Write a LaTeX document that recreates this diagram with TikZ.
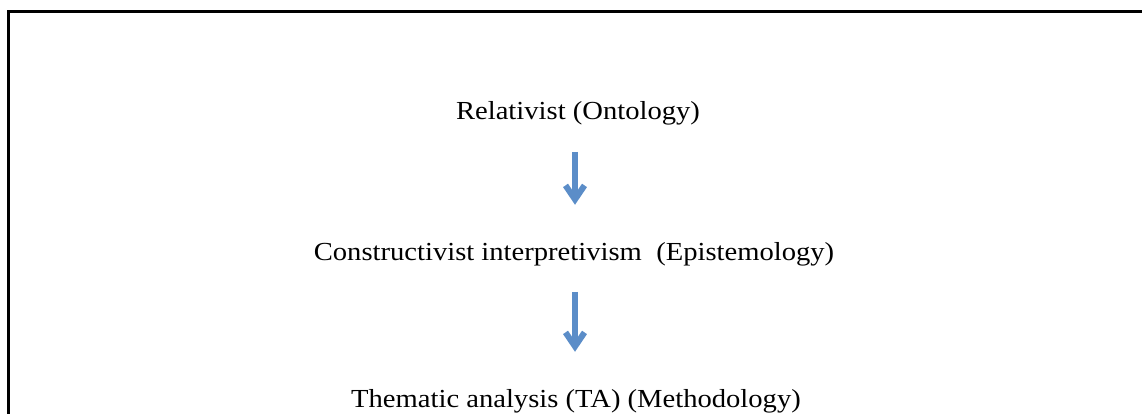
\documentclass[tikz,border=0pt]{standalone}
\usepackage{fontspec}
\setmainfont[FakeStretch=1.1]{Liberation Serif}
\usetikzlibrary{arrows.meta}
\definecolor{flowblue}{HTML}{5B8DC8}
\tikzset{
  level/.style={inner sep=0pt, anchor=base, font=\fontsize{26}{31}\selectfont},
  flow/.style={draw=flowblue, line width=6pt,
    -{Straight Barb[length=14pt, width=19pt, line width=6pt]},
    shorten <=26pt, shorten >=37pt},
}
\begin{document}
\begin{tikzpicture}[x=1pt, y=-1pt]
  \useasboundingbox (0,0) rectangle (1142,414);
  % frame: only its top and left sides fall inside the page
  \begin{scope}
    \clip (0,0) rectangle (1142,414);
    \draw[line width=3pt] (8,12) rectangle (1200,460);
  \end{scope}
  \node[level] (t1) at (578,120) {Relativist (Ontology)};
  \node[level] (t2) at (574,260) {Constructivist interpretivism\ \ (Epistemology)};
  \node[level] (t3) at (576,407) {Thematic analysis (TA) (Methodology)};
  \draw[flow] (t1.south -| 575,0) -- (t2.north -| 575,0);
  \draw[flow] (t2.south -| 575,0) -- (t3.north -| 575,0);
\end{tikzpicture}
\end{document}
